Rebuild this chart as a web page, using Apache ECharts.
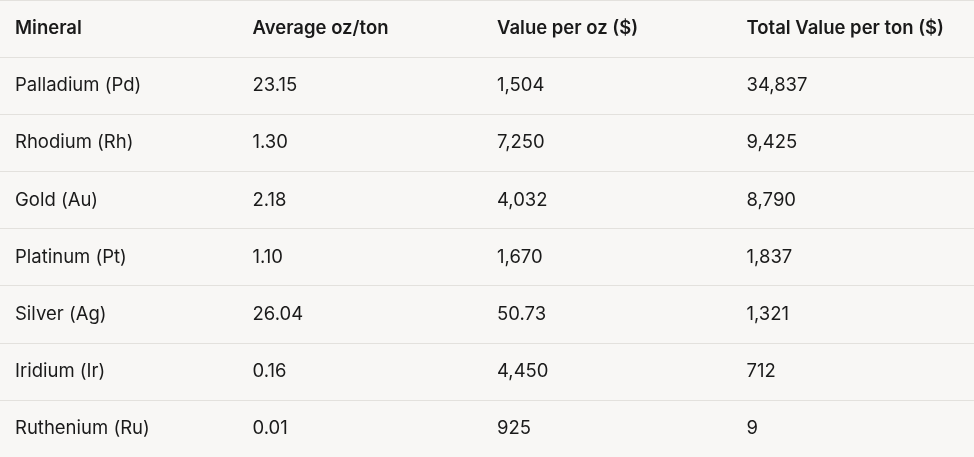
<!DOCTYPE html>
<html><head><meta charset="utf-8">
<script src="https://cdn.jsdelivr.net/npm/echarts@6/dist/echarts.min.js"></script>
<style>html,body{margin:0;padding:0;background:#f8f7f5}#c{width:974px;height:457px}</style>
</head><body><div id="c"></div>
<script>
const headers = ["Mineral", "Average oz/ton", "Value per oz ($)", "Total Value per ton ($)"];
const minerals = ["Palladium (Pd)", "Rhodium (Rh)", "Gold (Au)", "Platinum (Pt)", "Silver (Ag)", "Iridium (Ir)", "Ruthenium (Ru)"];
const avgOz = ["23.15", "1.30", "2.18", "1.10", "26.04", "0.16", "0.01"];
const valuePerOz = ["1,504", "7,250", "4,032", "1,670", "50.73", "4,450", "925"];
const totalPerTon = ["34,837", "9,425", "8,790", "1,837", "1,321", "712", "9"];

const rows = ["h"].concat(minerals.map((m, i) => "r" + i));
const cells = [];
headers.forEach((h, c) => cells.push([c, 0, h, 1]));
minerals.forEach((m, i) => {
  [m, avgOz[i], valuePerOz[i], totalPerTon[i]].forEach((v, c) => cells.push([c, i + 1, v, 0]));
});
const colOffsets = [15, 9, 10, 16];
const chart = echarts.init(document.getElementById('c'));
chart.setOption({
  backgroundColor: '#f8f7f5',
  animation: false,
  grid: { left: 0, width: 974, top: -4, height: 469 },
  xAxis: { type: 'category', data: headers, show: false },
  yAxis: { type: 'category', data: rows, inverse: true,
    axisLine: { show: false }, axisTick: { show: false }, axisLabel: { show: false },
    splitLine: { show: true, lineStyle: { color: '#e3e1dd', width: 1 } } },
  series: [{
    type: 'custom',
    data: cells,
    renderItem: function (params, api) {
      const c = api.value(0), r = api.value(1);
      const p = api.coord([c, r]);
      const w = api.size([1, 0])[0];
      const item = cells[params.dataIndex];
      return {
        type: 'text',
        style: {
          x: p[0] - w / 2 + colOffsets[c], y: p[1],
          text: item[2],
          fill: '#1a1a1a',
          font: (item[3] ? '600 ' : '400 ') + '18.5px Inter, "Noto Sans", sans-serif',
          verticalAlign: 'middle', align: 'left'
        }
      };
    }
  }]
});
</script></body></html>
